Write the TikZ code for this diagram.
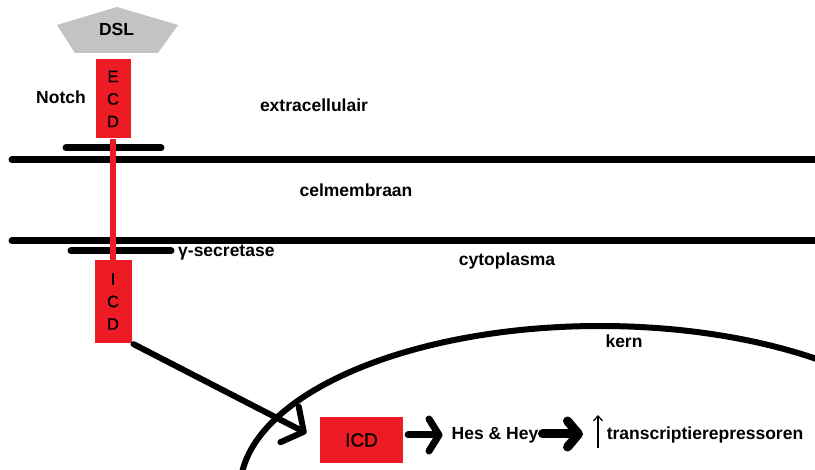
\documentclass[tikz,border=0pt]{standalone}
\usepackage{fontspec}
\setmainfont{Liberation Sans}
\newfontfamily\boxfont[FakeBold=0.8]{Liberation Sans}
\usetikzlibrary{arrows.meta}
\definecolor{paintred}{RGB}{237,28,36}
\definecolor{dslgray}{RGB}{195,195,195}
\begin{document}
\begin{tikzpicture}[x=1pt,y=-1pt,
  lbl/.style={font=\fontsize{17.5}{21}\selectfont\bfseries, inner sep=0pt, anchor=base},
  redbox/.style={fill=paintred, draw=none, inner sep=0pt, align=center,
    font=\boxfont\fontsize{16.5}{22.5}\selectfont},
  memline/.style={line width=7pt, line cap=round},
  secbar/.style={line width=7pt, line cap=round},
  stalk/.style={paintred, line width=6pt},
  bigarrow/.style={line width=6pt, line cap=round,
    -{Straight Barb[length=16pt,width=40pt,round]}},
  midarrow/.style={line width=7pt, line cap=round,
    -{Straight Barb[length=10pt,width=32pt,round]}},
  fatarrow/.style={line width=9pt, line cap=round,
    -{Straight Barb[length=11pt,width=26pt,round]}},
  thinarrow/.style={line width=1.2pt,
    -{Straight Barb[length=5pt,width=9pt]}}
]
\useasboundingbox (0,0) rectangle (815,470);
\clip (0,0) rectangle (815,470);

% nucleus
\draw[line width=6pt] (600,490) ellipse [x radius=360pt, y radius=164pt];

% membrane lines
\coordinate (m1l) at (12,160);
\coordinate (m1r) at (820,160);
\coordinate (m2l) at (12,241);
\coordinate (m2r) at (820,241);
\draw[memline] (m1l) -- (m1r);
\draw[memline] (m2l) -- (m2r);

% short bars
\coordinate (b1l) at (66,148);
\coordinate (b1r) at (161,148);
\coordinate (b2l) at (71,251);
\coordinate (b2r) at (171,251);
\draw[secbar] (b1l) -- (b1r);
\draw[secbar] (b2l) -- (b2r);

% DSL ligand
\fill[dslgray] (57,25) -- (117,7) -- (178,25) -- (158,53) -- (75,53) -- cycle;
\node[lbl] (dsl) at (116.5,36) {DSL};

% Notch receptor
\node[redbox, minimum width=35pt, minimum height=79pt] (ecd) at (113,99) {E\\C\\D};
\node[redbox, minimum width=37pt, minimum height=83pt] (icd1) at (113,301.5) {I\\C\\D};
\draw[stalk] (ecd.south) -- (icd1.north);

% labels
\node[lbl] (notch) at (61,104) {Notch};
\node[lbl] (extra) at (314,112) {extracellulair};
\node[lbl] (celm) at (356,197) {celmembraan};
\node[lbl, anchor=base west] (gsec) at (178,257) {γ-secretase};
\node[lbl] (cyto) at (507,266) {cytoplasma};
\node[lbl] (kern) at (624,348) {kern};

% nucleus content
\node[fill=paintred, inner sep=0pt, minimum width=83pt, minimum height=46pt,
  font=\boxfont\fontsize{19}{22}\selectfont] (icd2) at (361.5,440) {ICD};
\node[lbl] (hes) at (495,440) {Hes \& Hey};
\node[lbl] (trans) at (705,440) {transcriptierepressoren};
\coordinate (upb) at (598,448);
\coordinate (upt) at (598,415);

% arrows
\draw[bigarrow, shorten <=2pt, shorten >=15pt] (icd1.south east) -- (icd2.west);
\draw[midarrow, shorten <=5pt, shorten >=9pt] (icd2.east |- 0,435) -- (hes.west |- 0,435);
\draw[fatarrow, shorten <=4pt, shorten >=15pt] (hes.east |- 0,434) -- (upb |- 0,434);
\draw[thinarrow] (upb) -- (upt);
\end{tikzpicture}
\end{document}
